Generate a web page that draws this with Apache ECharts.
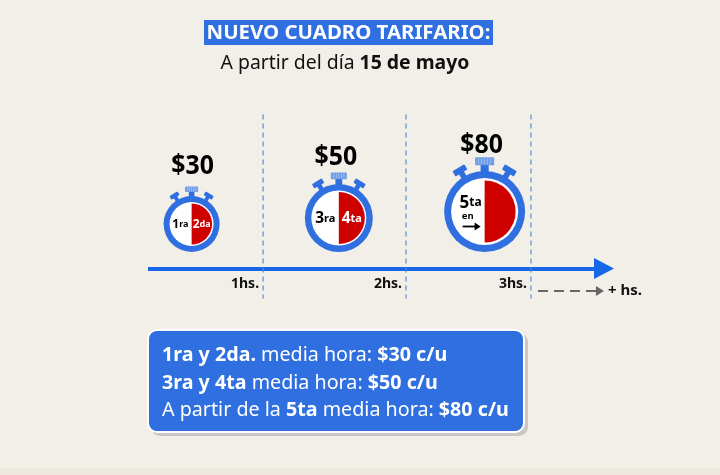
<!DOCTYPE html>
<html><head><meta charset="utf-8">
<style>html,body{margin:0;padding:0;background:#f2efe9}#c{width:720px;height:475px}</style>
<script src="https://cdn.jsdelivr.net/npm/echarts@6/dist/echarts.min.js"></script>
</head><body><div id="c"></div>
<script>
// ---- data ----
const titleText = 'NUEVO CUADRO TARIFARIO:';
const subtitleParts = ['A partir del día ', '15 de mayo'];
const prices = ['$30', '$50', '$80'];
const dialHours = [0.5, 1.53, 2.55];
const dialLeft = ['1', '3', '5'];
const dialLeftSuffix = ['ra', 'ra', 'ta'];
const dialRight = ['2', '4', ''];
const dialRightSuffix = ['da', 'ta', ''];
const hourMarks = [1, 2, 2.874];
const hourLabels = ['1hs.', '2hs.', '3hs.'];
const moreLabel = '+ hs.';
const cardLines = [
  [['1ra y 2da.', 1], [' media hora: ', 0], ['$30 c/u', 1]],
  [['3ra y 4ta', 1], [' media hora: ', 0], ['$50 c/u', 1]],
  [['A partir de la ', 0], ['5ta', 1], [' media hora: ', 0], ['$80 c/u', 1]]
];
// ---- style ----
const FONT = '"Noto Sans", sans-serif';
const BLUE = '#2f6fdf', LINE = '#1767e8', RED = '#cf0000', CROWN = '#6f9de6';
const dialStyle = [
  {r: 28, ring: 6, red: 20.5, priceUp: 60, priceDx: 1, big: 12, small: 9, lx: -.4, rx: .36},
  {r: 34, ring: 6.5, red: 26, priceUp: 63, priceDx: -3, big: 15.5, small: 11, lx: -.4, rx: .38},
  {r: 40.5, ring: 7, red: 31, priceUp: 68.5, priceDx: -3}
];
const chart = echarts.init(document.getElementById('c'), null, {renderer: 'canvas'});

function dialItem(params, api) {
  const i = params.dataIndex, s = dialStyle[i];
  const foot = api.coord([api.value(0), 16.5]);
  const cx = foot[0], r = s.r, cy = foot[1] - r;
  const kids = [];
  [-1, 1].forEach(d => {
    const a = d * 31 * Math.PI / 180;
    const kx = cx + Math.sin(a) * r * 1.14, ky = cy - Math.cos(a) * r * 1.14;
    kids.push({type: 'group', x: kx, y: ky, rotation: -a, children: [
      {type: 'rect', shape: {x: -r * .07, y: -r * .02, width: r * .14, height: r * .18}, style: {fill: BLUE}},
      {type: 'rect', shape: {x: -r * .17, y: -r * .12, width: r * .34, height: r * .15, r: 1}, style: {fill: BLUE}}
    ]});
  });
  kids.push({type: 'rect', shape: {x: cx - r * .1, y: cy - r * 1.16, width: r * .2, height: r * .2}, style: {fill: BLUE}});
  kids.push({type: 'rect', shape: {x: cx - r * .235, y: cy - r * 1.34, width: r * .47, height: r * .2, r: 1}, style: {fill: CROWN}});
  [-.15, -.075, 0, .075, .15].forEach(o => kids.push({type: 'rect',
    shape: {x: cx + r * o - .4, y: cy - r * 1.31, width: .8, height: r * .14}, style: {fill: '#a9c3ee'}}));
  kids.push({type: 'circle', shape: {cx, cy, r}, style: {fill: BLUE}});
  kids.push({type: 'circle', shape: {cx, cy, r: r - s.ring}, style: {fill: '#ffffff'}});
  kids.push({type: 'sector', shape: {cx, cy, r: s.red, startAngle: -Math.PI / 2, endAngle: Math.PI / 2}, style: {fill: RED}});
  kids.push({type: 'text', x: cx + s.priceDx, y: cy - s.priceUp + 2.5, scaleX: .92, originX: 0, originY: 0, style: {text: prices[i], fill: '#000', align: 'center', verticalAlign: 'middle',
    font: '700 27px ' + FONT}});
  if (i < 2) {
    kids.push({type: 'text', x: cx + r * s.lx, y: cy + 0.5, style: {
      text: '{a|' + dialLeft[i] + '}{b|' + dialLeftSuffix[i] + '}', align: 'center', verticalAlign: 'middle',
      rich: {a: {font: '700 ' + s.big + 'px ' + FONT, fill: '#000'}, b: {font: '700 ' + s.small + 'px ' + FONT, fill: '#000'}}}});
    kids.push({type: 'text', x: cx + r * s.rx, y: cy + 0.5, style: {
      text: '{a|' + dialRight[i] + '}{b|' + dialRightSuffix[i] + '}', align: 'center', verticalAlign: 'middle',
      rich: {a: {font: '700 ' + s.big + 'px ' + FONT, fill: '#fff'}, b: {font: '700 ' + s.small + 'px ' + FONT, fill: '#fff'}}}});
  } else {
    kids.push({type: 'text', x: cx - 14, y: cy - 8.5, style: {
      text: '{a|' + dialLeft[i] + '}{b|' + dialLeftSuffix[i] + '}', align: 'center', verticalAlign: 'middle',
      rich: {a: {font: '700 17px ' + FONT, fill: '#000'}, b: {font: '700 12px ' + FONT, fill: '#000'}}}});
    kids.push({type: 'text', x: cx - 17, y: cy + 4.5, style: {text: 'en', fill: '#000', align: 'center', verticalAlign: 'middle', font: '700 9.5px ' + FONT}});
    kids.push({type: 'line', shape: {x1: cx - 22, y1: cy + 15, x2: cx - 9, y2: cy + 15}, style: {stroke: '#000', lineWidth: 1.8}});
    kids.push({type: 'polygon', shape: {points: [[cx - 10, cy + 11], [cx - 4, cy + 15], [cx - 10, cy + 19]]}, style: {fill: '#000'}});
  }
  return {type: 'group', children: kids};
}

function markItem(params, api) {
  const x = api.coord([api.value(0), 0])[0];
  const y0 = api.coord([0, 0])[1];
  return {type: 'group', children: [
    {type: 'line', z2: 1, shape: {x1: x, y1: y0 - 154, x2: x, y2: y0 + 30}, style: {stroke: '#5a8ace', lineWidth: 1.2, lineDash: [5, 4]}},
    {type: 'text', x: x - 4, y: y0 + 15.5, style: {text: hourLabels[params.dataIndex], fill: '#111', align: 'right', verticalAlign: 'middle', font: '700 14px ' + FONT}}
  ]};
}

function moreItem(params, api) {
  const x = api.coord([api.value(0), 0])[0];
  const y = api.coord([0, 0])[1] + 22.5;
  return {type: 'group', children: [
    {type: 'line', shape: {x1: x + 7, y1: y, x2: x + 66, y2: y}, style: {stroke: '#666', lineWidth: 2, lineDash: [10, 6]}},
    {type: 'polygon', shape: {points: [[x + 65, y - 5], [x + 73, y], [x + 65, y + 5]]}, style: {fill: '#666'}},
    {type: 'text', x: x + 77, y: y, style: {text: moreLabel, fill: '#111', align: 'left', verticalAlign: 'middle', font: '700 15px ' + FONT}}
  ]};
}

const cardRich = {n: {font: '400 19.7px ' + FONT, fill: '#fff', lineHeight: 27.5}, b: {font: '700 19.7px ' + FONT, fill: '#fff', lineHeight: 27.5}};
const cardText = cardLines.map(l => l.map(p => '{' + (p[1] ? 'b' : 'n') + '|' + p[0] + '}').join('')).join('\n');

chart.setOption({
  animation: false,
  backgroundColor: '#f2efe9',
  grid: {left: 148, top: 68.5, width: 456, height: 200},
  xAxis: {type: 'value', min: 0.195, max: 3.385, show: true, splitLine: {show: false},
    axisTick: {show: false}, axisLabel: {show: false},
    axisLine: {show: true, onZero: false, lineStyle: {color: LINE, width: 4, cap: 'butt'}, symbol: ['none', 'triangle'], symbolSize: [21, 20], symbolOffset: [0, 0]}},
  yAxis: {type: 'value', min: 0, max: 200, show: false},
  graphic: [
    {type: 'rect', shape: {x: 0, y: 468, width: 720, height: 7}, style: {fill: '#ece8dd'}},
    {type: 'rect', shape: {x: 204, y: 20, width: 289, height: 25}, style: {fill: BLUE}},
    {type: 'text', x: 348.5, y: 33.5, style: {text: titleText, fill: '#fff', align: 'center', verticalAlign: 'middle', font: '700 20.4px ' + FONT}},
    {type: 'text', x: 345, y: 63.5, style: {text: '{n|' + subtitleParts[0] + '}{b|' + subtitleParts[1] + '}', align: 'center', verticalAlign: 'middle',
      rich: {n: {font: '400 19.4px ' + FONT, fill: '#111'}, b: {font: '700 19.4px ' + FONT, fill: '#111'}}}},
    {type: 'rect', shape: {x: 151, y: 333, width: 377, height: 103, r: 9}, style: {fill: '#c9c8c5'}},
    {type: 'rect', shape: {x: 148, y: 330, width: 376, height: 102, r: 9}, style: {fill: BLUE, stroke: '#fff', lineWidth: 2}},
    {type: 'text', x: 162, y: 383, style: {text: cardText, align: 'left', verticalAlign: 'middle', rich: cardRich}}
  ],
  series: [
    {type: 'custom', name: 'marks', renderItem: markItem, data: hourMarks.map(h => [h]), coordinateSystem: 'cartesian2d', encode: {x: 0}, z: 1},
    {type: 'custom', name: 'dials', renderItem: dialItem, data: dialHours.map(h => [h]), coordinateSystem: 'cartesian2d', encode: {x: 0}, z: 3},
    {type: 'custom', name: 'more', renderItem: moreItem, data: [[hourMarks[2]]], coordinateSystem: 'cartesian2d', encode: {x: 0}, z: 3}
  ]
});
</script></body></html>
